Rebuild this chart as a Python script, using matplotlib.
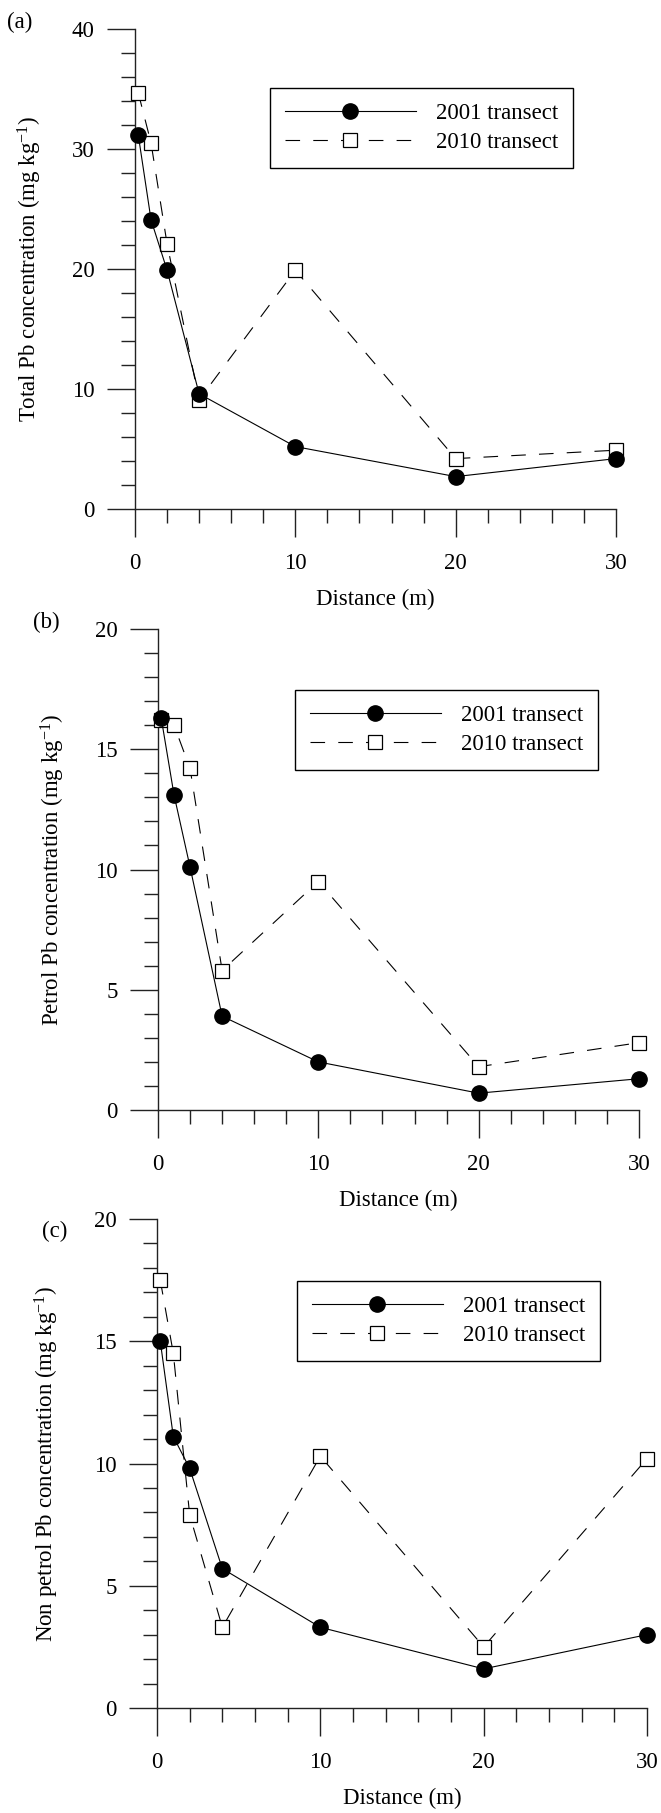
import matplotlib
matplotlib.use("Agg")
import matplotlib.pyplot as plt
from matplotlib.ticker import MultipleLocator

plt.rcParams['font.family'] = ['Liberation Serif', 'DejaVu Serif']
plt.rcParams['mathtext.fontset'] = 'custom'
plt.rcParams['mathtext.rm'] = 'Liberation Serif'
plt.rcParams['mathtext.it'] = 'Liberation Serif:italic'
plt.rcParams['lines.scale_dashes'] = False

# Sampling distances along the transect (m)
distance = [0.2, 1, 2, 4, 10, 20, 30]

# Total Pb (mg/kg)
total_2001 = [31.2, 24.1, 19.9, 9.6, 5.2, 2.7, 4.2]
total_2010 = [34.7, 30.5, 22.1, 9.1, 19.9, 4.2, 4.9]
# Petrol-derived Pb (mg/kg)
petrol_2001 = [16.3, 13.1, 10.1, 3.9, 2.0, 0.7, 1.3]
petrol_2010 = [16.2, 16.0, 14.2, 5.8, 9.5, 1.8, 2.8]
# Non-petrol Pb (mg/kg)
nonpetrol_2001 = [15.0, 11.1, 9.8, 5.7, 3.3, 1.6, 3.0]
nonpetrol_2010 = [17.5, 14.5, 7.9, 3.3, 10.3, 2.5, 10.2]

series_labels = ['2001 transect', '2010 transect']
panel_letters = ['(a)', '(b)', '(c)']
y_titles = ['Total Pb concentration (mg kg$^{\\mathregular{-1}}$)',
            'Petrol Pb concentration (mg kg$^{\\mathregular{-1}}$)',
            'Non petrol Pb concentration (mg kg$^{\\mathregular{-1}}$)']
y_max = [40, 20, 20]
y_major = [10, 5, 5]
y_minor = [2, 1, 1]
x_ticks = [0, 10, 20, 30]

W, H, DPI = 661, 1813, 100
FS = 16.5
AXIS_COLOR = '#222222'

fig = plt.figure(figsize=(W / DPI, H / DPI), dpi=DPI)


def fx(px):
    return px / W


def fy(py):
    return 1 - py / H


# pixel boxes: left, top, right, bottom
boxes = [(135, 29, 616, 509), (158, 629, 639, 1110), (157, 1219, 647, 1708)]
ylabel_x = [30, 53, 47]
letter_pos = [(20, 22), (46, 622), (55, 1231)]
legend_pos = [(270, 88), (295, 690), (297, 1281)]

data = [(total_2001, total_2010), (petrol_2001, petrol_2010),
        (nonpetrol_2001, nonpetrol_2010)]

for i, (l, t, r, b) in enumerate(boxes):
    ax = fig.add_axes([fx(l), fy(b), (r - l) / W, (b - t) / H])
    s01, s10 = data[i]
    ax.plot(distance, s10, color='black', lw=0.8, ls=(0, (10.5, 9.5)),
            marker='s', ms=10, mfc='white', mec='black', mew=0.9,
            clip_on=False, zorder=3, label=series_labels[1])
    ax.plot(distance, s01, color='black', lw=0.8, ls='-',
            marker='o', ms=11, mfc='black', mec='black',
            clip_on=False, zorder=4, label=series_labels[0])

    ax.set_xlim(0, 30)
    ax.set_ylim(0, y_max[i])
    ax.set_xticks(x_ticks)
    ax.xaxis.set_minor_locator(MultipleLocator(2))
    ax.yaxis.set_major_locator(MultipleLocator(y_major[i]))
    ax.yaxis.set_minor_locator(MultipleLocator(y_minor[i]))

    for side in ('top', 'right'):
        ax.spines[side].set_visible(False)
    for side in ('left', 'bottom'):
        ax.spines[side].set_linewidth(1.0)
        ax.spines[side].set_color(AXIS_COLOR)

    ax.tick_params(axis='both', which='major', direction='out', length=20,
                   width=1.0, labelsize=FS, color=AXIS_COLOR)
    ax.tick_params(axis='both', which='minor', direction='out', length=10,
                   width=1.0, color=AXIS_COLOR)
    ax.tick_params(axis='x', which='major', pad=12)
    ax.tick_params(axis='y', which='major', pad=9)

    ax.set_xlabel('Distance (m)', fontsize=FS, va='center')
    ax.xaxis.set_label_coords(fx((l + r) / 2), fy(b + 90),
                              transform=fig.transFigure)
    ax.set_ylabel(y_titles[i], fontsize=FS, va='center')
    ax.yaxis.set_label_coords(fx(ylabel_x[i]), fy((t + b) / 2),
                              transform=fig.transFigure)

    lx, ly = letter_pos[i]
    fig.text(fx(lx), fy(ly), panel_letters[i], fontsize=FS,
             ha='center', va='center')

    h, lab = ax.get_legend_handles_labels()
    order = [1, 0]
    leg = ax.legend([h[k] for k in order], [lab[k] for k in order],
                    loc='upper left',
                    bbox_to_anchor=(fx(legend_pos[i][0]), fy(legend_pos[i][1])),
                    bbox_transform=fig.transFigure, borderaxespad=0,
                    fontsize=FS, frameon=True, fancybox=False,
                    framealpha=1, edgecolor='black', handlelength=5.7,
                    handletextpad=0.9, borderpad=0.65, labelspacing=0.35,
                    numpoints=1)
    leg.get_frame().set_linewidth(1.0)

fig.savefig('out.png', dpi=DPI)
